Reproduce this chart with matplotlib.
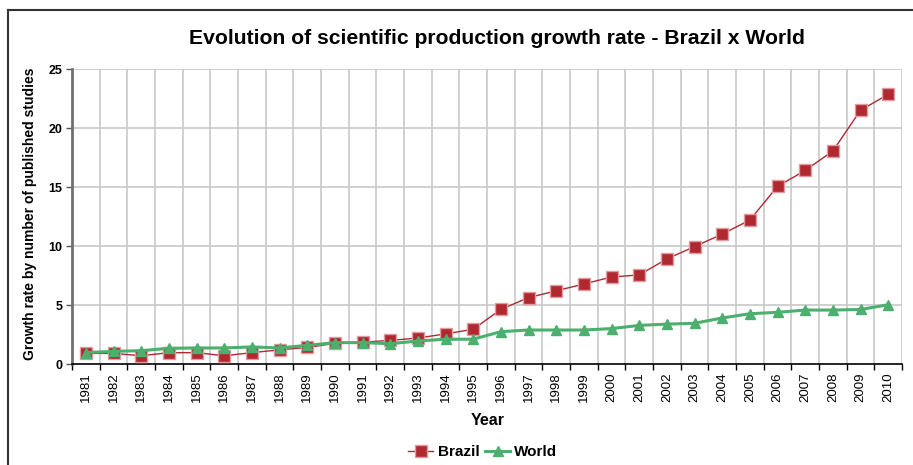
import numpy as np
from matplotlib import pyplot as plt
from matplotlib.lines import Line2D

# Data
years = list(range(1981, 2011))
brazil = [0.9, 0.9, 0.7, 0.96, 0.96, 0.7, 0.96, 1.2, 1.4, 1.75,
          1.85, 2.0, 2.2, 2.55, 2.94, 4.63, 5.62, 6.2, 6.78, 7.37,
          7.55, 8.9, 9.95, 11.0, 12.2, 15.05, 16.4, 18.05, 21.5, 22.85]
world = [0.97, 1.07, 1.13, 1.33, 1.36, 1.36, 1.45, 1.36, 1.58, 1.81,
         1.81, 1.72, 1.95, 2.1, 2.1, 2.74, 2.88, 2.88, 2.88, 3.0,
         3.27, 3.38, 3.45, 3.9, 4.26, 4.38, 4.57, 4.57, 4.62, 5.02]
y_ticks = [0, 5, 10, 15, 20, 25]

brazil_color = '#B02830'
world_color = '#4CAF6E'

fig = plt.figure(figsize=(9.13, 4.65), dpi=100)
ax = fig.add_axes([72/913, 1 - 364/465, (902-72)/913, (364-69)/465])

x = np.arange(len(years))
ax.plot(x, brazil, color=brazil_color, lw=1.0, marker='s', markersize=8,
        markerfacecolor=brazil_color, markeredgecolor='#E09AA0', markeredgewidth=1.0,
        label='Brazil', zorder=3)
ax.plot(x, world, color=world_color, lw=2.2, marker='^', markersize=6.5,
        markerfacecolor=world_color, markeredgecolor=world_color,
        label='World', zorder=4)

ax.set_xlim(-0.5, len(years) - 0.5)
ax.set_ylim(0, 25)

# gridlines at category boundaries
for b in np.arange(0.5, len(years) - 0.5 + 1e-9, 1):
    ax.axvline(b, color='#C8C8C8', lw=1.2, zorder=1)
for t in y_ticks[1:]:
    ax.axhline(t, color='#C8C8C8', lw=1.2, zorder=1)

ax.set_xticks(x)
ax.set_xticklabels([str(y) for y in years], rotation=90, fontsize=9.5,
                   family='Liberation Sans')
ax.tick_params(axis='x', length=0, pad=6)
ax.set_xticks(np.arange(-0.5, len(years)), minor=True)
ax.tick_params(axis='x', which='minor', length=4, width=1, color='black')

ax.set_yticks(y_ticks)
ax.set_yticklabels([str(t) for t in y_ticks], fontsize=9, fontweight='bold',
                   family='Liberation Sans')
ax.tick_params(axis='y', length=4, width=1, color='#555555', pad=3)

for s in ['top', 'right']:
    ax.spines[s].set_visible(False)
ax.spines['left'].set_color('#707070')
ax.spines['left'].set_linewidth(2)
ax.spines['bottom'].set_color('black')
ax.spines['bottom'].set_linewidth(1.2)

fig.text(497/913, 1 - 38/465, 'Evolution of scientific production growth rate - Brazil x World',
         ha='center', va='center', fontsize=15.2, fontweight='bold', family='Liberation Sans')
fig.text(30/913, 1 - 214/465, 'Growth rate by number of published studies', rotation=90,
         ha='center', va='center', fontsize=10, fontweight='bold', family='Liberation Sans')
fig.text(488/913, 1 - 420/465, 'Year', ha='center', va='center', fontsize=11.5,
         fontweight='bold', family='Liberation Sans')

handles = [Line2D([], [], color=brazil_color, lw=1.0, marker='s', markersize=8,
                  markerfacecolor=brazil_color, markeredgecolor='#E09AA0'),
           Line2D([], [], color=world_color, lw=2.2, marker='^', markersize=6.5,
                  markerfacecolor=world_color, markeredgecolor=world_color)]
fig.legend(handles, ['Brazil', 'World'], loc='center', bbox_to_anchor=(483/913, 1 - 452/465),
           ncol=2, frameon=False, handlelength=1.6, columnspacing=0.4, handletextpad=0.3,
           prop={'family': 'Liberation Sans', 'weight': 'bold', 'size': 11})

# outer frame (top and left edges)
fig.add_artist(Line2D([8/913, 1], [1 - 10/465, 1 - 10/465], color='#333333', lw=1.5,
                      transform=fig.transFigure))
fig.add_artist(Line2D([8/913, 8/913], [0, 1 - 10/465], color='#333333', lw=1.5,
                      transform=fig.transFigure))

fig.savefig('out.png', dpi=100)
